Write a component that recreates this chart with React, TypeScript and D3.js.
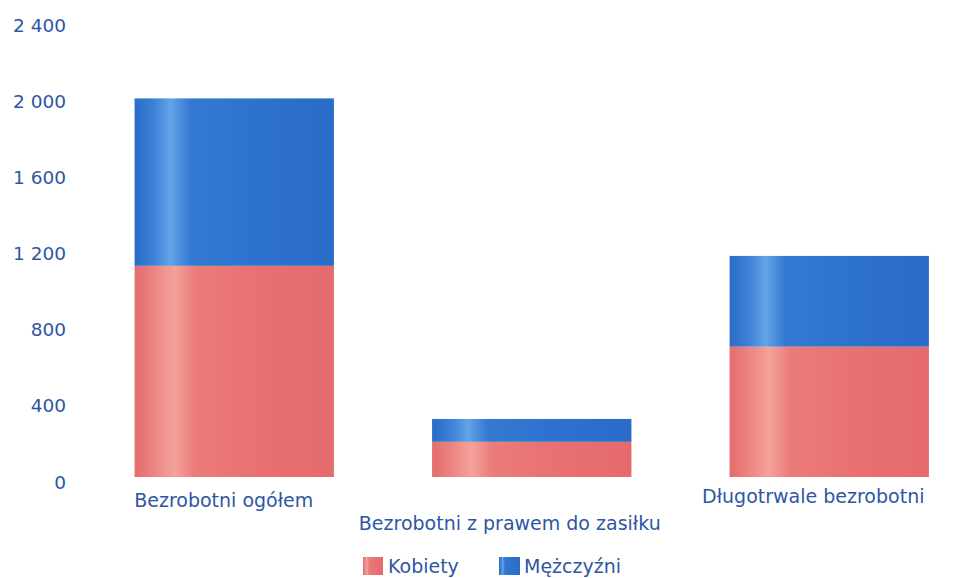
import React from "react";
import * as d3 from "d3";

const categories = ["Bezrobotni ogółem", "Bezrobotni z prawem do zasiłku", "Długotrwale bezrobotni"];
const kobiety = [1110, 185, 685];
const mezczyzni = [880, 120, 477];
const seriesNames = ["Kobiety", "Mężczyźni"];
const yTicks = [0, 400, 800, 1200, 1600, 2000, 2400];

const W = 966;
const H = 578;
const TEXT = "#2f56a3";
const FONT = "'DejaVu Sans', Verdana, sans-serif";

// label layout: [x offset from band centre, baseline y]
const labelLayout = [
  { dx: -10.5, y: 507 },
  { dx: -22, y: 530 },
  { dx: -16, y: 503 },
];

export default function App() {
  const x = d3
    .scaleBand<string>()
    .domain(categories)
    .range([85.5, 978])
    .paddingInner(0.33)
    .paddingOuter(0.165);
  const y = d3.scaleLinear().domain([0, 2400]).range([477, 20.4]);

  const rows = categories.map((c, i) => ({ cat: c, Kobiety: kobiety[i], "Mężczyźni": mezczyzni[i] }));
  const stack = d3.stack<any>().keys(seriesNames)(rows);
  const fills = ["url(#gRed)", "url(#gBlue)"];

  const fmt = (v: number) => d3.format(",")(v).replace(/,/g, " ");

  return (
    <svg width={W} height={H} style={{ position: "absolute", left: 0, top: 0, background: "#fff" }}>
      <defs>
        <linearGradient id="gRed" x1="0" x2="1" y1="0" y2="0">
          <stop offset="0" stopColor="#e46c6e" />
          <stop offset="0.1" stopColor="#ec8582" />
          <stop offset="0.2" stopColor="#f4a29c" />
          <stop offset="0.3" stopColor="#eb7c7a" />
          <stop offset="0.6" stopColor="#e97172" />
          <stop offset="1" stopColor="#e46a6e" />
        </linearGradient>
        <linearGradient id="gBlue" x1="0" x2="1" y1="0" y2="0">
          <stop offset="0" stopColor="#2a6cc6" />
          <stop offset="0.1" stopColor="#3e82d8" />
          <stop offset="0.18" stopColor="#64a3e6" />
          <stop offset="0.28" stopColor="#3479d2" />
          <stop offset="0.6" stopColor="#2d72cc" />
          <stop offset="1" stopColor="#2a6cc8" />
        </linearGradient>
      </defs>

      {yTicks.map((t) => (
        <text
          key={t}
          x={66}
          y={y(t) + 11.5}
          textAnchor="end"
          fontFamily={FONT}
          fontSize={18.5}
          fill={TEXT}
        >
          {fmt(t)}
        </text>
      ))}

      {stack.map((s, si) =>
        s.map((d: any, i: number) => (
          <rect
            key={si + "-" + i}
            x={x(categories[i])}
            width={x.bandwidth()}
            y={y(d[1])}
            height={y(d[0]) - y(d[1])}
            fill={fills[si]}
          />
        ))
      )}

      {categories.map((c, i) => (
        <text
          key={c}
          x={(x(c) as number) + x.bandwidth() / 2 + labelLayout[i].dx}
          y={labelLayout[i].y}
          textAnchor="middle"
          fontFamily={FONT}
          fontSize={19}
          fill={TEXT}
        >
          {c}
        </text>
      ))}

      <g fontFamily={FONT} fontSize={19} fill={TEXT}>
        <rect x={363} y={557} width={20} height={18} fill="url(#gRed)" />
        <text x={388} y={573}>{seriesNames[0]}</text>
        <rect x={499} y={557} width={21} height={18} fill="url(#gBlue)" />
        <text x={524} y={573}>{seriesNames[1]}</text>
      </g>
    </svg>
  );
}
